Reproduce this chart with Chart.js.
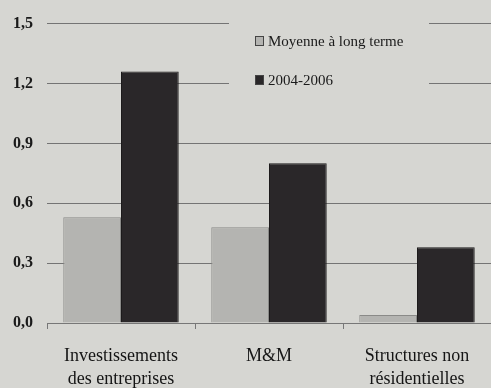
<!DOCTYPE html>
<html>
<head>
  <meta charset="utf-8">
  <title>Investissements</title>
  <script src="https://cdn.jsdelivr.net/npm/chart.js"></script>
  <style>
    body { margin: 0; background: #d6d6d2; }
    #c { display: block; }
  </style>
</head>
<body>
  <canvas id="c" width="491" height="388"></canvas>

  <script>
    // données
    var categories = [
      ['Investissements', 'des entreprises'],
      'M&M',
      ['Structures non', 'résidentielles']
    ];
    var moyenneLongTerme = [0.53, 0.48, 0.04];
    var periode2004 = [1.26, 0.80, 0.38];
    var seriesNames = ['Moyenne à long terme', '2004-2006'];

    var fond = '#d6d6d2';
    var police = "'Liberation Serif', 'DejaVu Serif', serif";

    // fond + légende posée dans la zone du graphique
    var fondPlugin = {
      id: 'fond',
      beforeDraw: function(chart) {
        var ctx = chart.ctx;
        ctx.save();
        ctx.fillStyle = fond;
        ctx.fillRect(0, 0, chart.width, chart.height);
        ctx.restore();
      },
      afterDatasetsDraw: function(chart) {
        var ctx = chart.ctx;
        ctx.save();
        ctx.fillStyle = fond;
        ctx.fillRect(229, 12, 200, 80);
        var ys = [41, 80];
        chart.data.datasets.forEach(function(ds, i) {
          ctx.fillStyle = ds.backgroundColor;
          ctx.fillRect(255, ys[i] - 5, 9, 10);
          ctx.strokeStyle = '#444';
          ctx.lineWidth = 1;
          ctx.strokeRect(255.5, ys[i] - 4.5, 8, 9);
          ctx.fillStyle = '#1a1a1a';
          ctx.font = '15px ' + police;
          ctx.textBaseline = 'middle';
          ctx.fillText(ds.label, 268, ys[i] + 1);
        });
        ctx.restore();
      }
    };

    var ctx = document.getElementById('c').getContext('2d');
    new Chart(ctx, {
      type: 'bar',
      data: {
        labels: categories,
        datasets: [{
          label: seriesNames[0],
          data: moyenneLongTerme,
          backgroundColor: '#b4b4b1',
          borderColor: '#8a8a88',
          borderWidth: 1
        }, {
          label: seriesNames[1],
          data: periode2004,
          backgroundColor: '#2a2729',
          borderColor: '#1c1a1b',
          borderWidth: 1
        }]
      },
      options: {
        responsive: false,
        animation: false,
        layout: { padding: { top: 21, left: 0, right: -3, bottom: 0 } },
        datasets: { bar: { categoryPercentage: 0.78, barPercentage: 1 } },
        plugins: {
          legend: { display: false },
          tooltip: { enabled: false }
        },
        scales: {
          x: {
            grid: {
              offset: true,
              drawOnChartArea: false,
              tickLength: 6,
              color: '#777'
            },
            border: { color: '#777' },
            ticks: {
              color: '#151515',
              padding: 16,
              font: { family: police, size: 18, lineHeight: 1.28 }
            },
            afterFit: function(scale) { scale.height = 65; }
          },
          y: {
            min: 0,
            max: 1.5,
            grid: { color: '#747474', drawTicks: false },
            border: { display: false },
            ticks: {
              stepSize: 0.3,
              padding: 14,
              color: '#1a1a1a',
              font: { family: police, size: 16, weight: 'bold' },
              callback: function(v) { return v.toFixed(1).replace('.', ','); }
            },
            afterFit: function(scale) { scale.width = 47; }
          }
        }
      },
      plugins: [fondPlugin]
    });
  </script>
</body>
</html>
